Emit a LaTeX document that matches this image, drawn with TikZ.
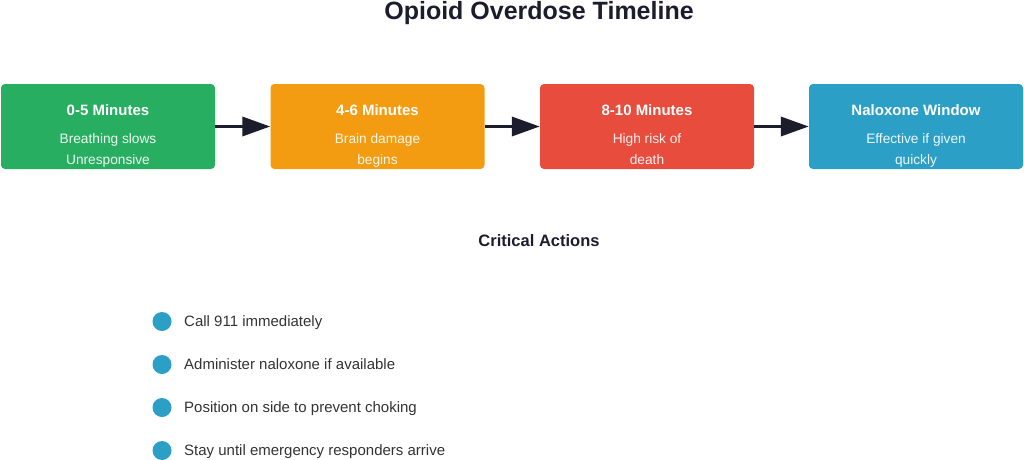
\documentclass[tikz,border=0pt]{standalone}
\usepackage{fontspec}
\setmainfont{Liberation Sans}
\usetikzlibrary{arrows.meta}
\definecolor{cgreen}{HTML}{27AE60}
\definecolor{corange}{HTML}{F39C12}
\definecolor{cred}{HTML}{E74C3C}
\definecolor{cblue}{HTML}{2B9FC6}
\definecolor{cdark}{HTML}{1C1C2C}
\definecolor{ctext}{HTML}{333333}
\tikzset{
  stage/.style={rounded corners=4pt, minimum width=214pt, minimum height=85pt, inner sep=0pt},
  stitle/.style={font=\fontsize{15}{18}\selectfont\bfseries, text=white, anchor=base, inner sep=0pt},
  ssub/.style={font=\fontsize{13.7}{21}\selectfont, text=white, opacity=0.92, align=center, anchor=base, inner sep=0pt},
  flow/.style={draw=cdark, line width=3.5pt, -{Triangle[length=28pt,width=19pt]}},
  bullet/.style={circle, fill=cblue, minimum size=19pt, inner sep=0pt},
  btext/.style={font=\fontsize{15}{18}\selectfont, text=ctext, anchor=base west, inner sep=0pt},
}
\begin{document}
\begin{tikzpicture}[x=1pt,y=-1pt]
\useasboundingbox (0,0) rectangle (1024,459);
\node[font=\fontsize{25}{30}\selectfont\bfseries, text=cdark, anchor=base, inner sep=0pt] (title) at (539,19.5) {Opioid Overdose Timeline};

\node[stage, fill=cgreen] (b1) at (108,126.5) {};
\node[stage, fill=corange] (b2) at (377.5,126.5) {};
\node[stage, fill=cred] (b3) at (647,126.5) {};
\node[stage, fill=cblue] (b4) at (916,126.5) {};

\node[stitle] (t1) at (108,115.5) {0-5 Minutes};
\node[ssub] (s1) at (108,164) {Breathing slows\\Unresponsive};
\node[stitle] (t2) at (377.5,115.5) {4-6 Minutes};
\node[ssub] (s2) at (377.5,164) {Brain damage\\begins};
\node[stitle] (t3) at (647,115.5) {8-10 Minutes};
\node[ssub] (s3) at (647,164) {High risk of\\death};
\node[stitle] (t4) at (916,115.5) {Naloxone Window};
\node[ssub] (s4) at (916,164) {Effective if given\\quickly};

\draw[flow] (b1.east) -- (b2.west);
\draw[flow] (b2.east) -- (b3.west);
\draw[flow] (b3.east) -- (b4.west);

\node[font=\fontsize{16.5}{20}\selectfont\bfseries, text=cdark, anchor=base, inner sep=0pt] (ca) at (539,246) {Critical Actions};

\node[bullet] (c1) at (162,321.5) {};
\node[btext] (a1) at (184,326.5) {Call 911 immediately};
\node[bullet] (c2) at (162,364.5) {};
\node[btext] (a2) at (184,369.5) {Administer naloxone if available};
\node[bullet] (c3) at (162,407.5) {};
\node[btext] (a3) at (184,412.5) {Position on side to prevent choking};
\node[bullet] (c4) at (162,450.5) {};
\node[btext] (a4) at (184,455.5) {Stay until emergency responders arrive};
\end{tikzpicture}
\end{document}
